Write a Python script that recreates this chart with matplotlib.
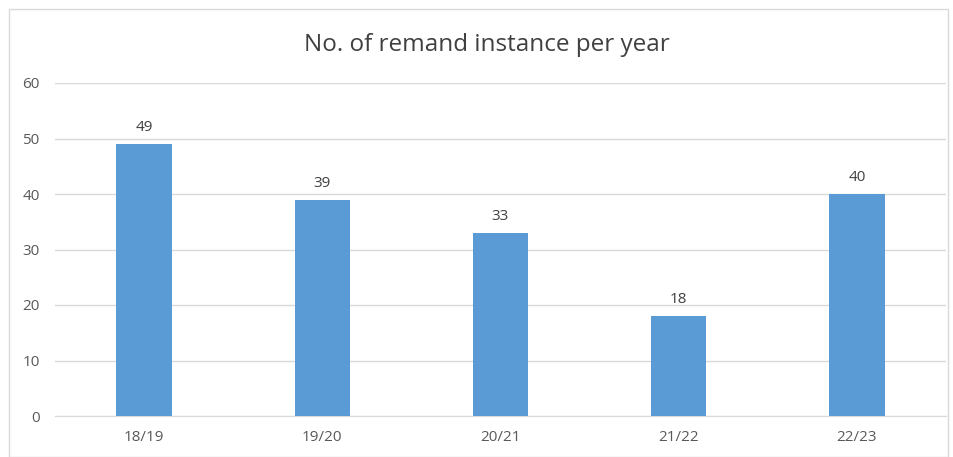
import matplotlib
matplotlib.use("Agg")
import matplotlib.pyplot as plt
from matplotlib.patches import Rectangle

categories = ["18/19", "19/20", "20/21", "21/22", "22/23"]
values = [49, 39, 33, 18, 40]
yticks = [0, 10, 20, 30, 40, 50, 60]

plt.rcParams['font.family'] = ['Open Sans', 'DejaVu Sans']
fig = plt.figure(figsize=(9.54, 4.57), dpi=100)
W, H = 954, 457
ax = fig.add_axes([55 / W, (H - 416) / H, (946 - 55) / W, (416 - 83) / H])

x = list(range(len(categories)))
bars = ax.bar(x, values, width=0.31, color="#5B9BD5", zorder=3)
for xi, v in zip(x, values):
    ax.text(xi, v + 1.6, str(v), ha="center", va="bottom", fontsize=11, color="#404040")

ax.set_xlim(-0.5, len(categories) - 0.5)
ax.set_ylim(0, 60)
ax.set_yticks(yticks)
ax.set_xticks(x)
ax.set_xticklabels(categories)
ax.grid(axis="y", color="#D9D9D9", linewidth=1, zorder=0)
for s in ax.spines.values():
    s.set_visible(False)
ax.spines["bottom"].set_visible(True)
ax.spines["bottom"].set_color("#D9D9D9")
ax.tick_params(axis="both", length=0, labelsize=11, labelcolor="#595959")
ax.tick_params(axis="y", pad=11)
ax.tick_params(axis="x", pad=10)

fig.text(487 / W, 1 - 45 / H, "No. of remand instance per year", ha="center", va="center",
         fontsize=17.5, color="#404040")
fig.patches.append(Rectangle((9 / W, 0), (948 - 9) / W, (H - 9) / H, transform=fig.transFigure,
                             fill=False, edgecolor="#D9D9D9", linewidth=1))
fig.savefig("out.png", dpi=100)
